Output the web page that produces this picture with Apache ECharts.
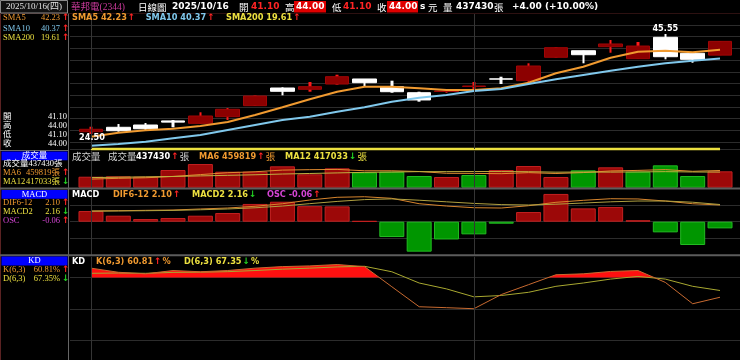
<!DOCTYPE html>
<html><head><meta charset="utf-8">
<script src="https://cdn.jsdelivr.net/npm/echarts@6/dist/echarts.min.js"></script>
<style>html,body{margin:0;padding:0;background:#000}#c{width:740px;height:360px}</style>
</head><body><div id="c"></div>
<script>
// ---------------- data ----------------
const dates  = ['09/10','09/11','09/12','09/15','09/16','09/17','09/18','09/19','09/22','09/23','09/24','09/25',
                '09/26','09/30','10/01','10/02','10/03','10/07','10/08','10/09','10/13','10/14','10/15','10/16'];
const opens  = [24.98,25.91,26.39,27.25,26.75,28.14,30.46,34.18,33.91,35.02,36.08,34.46,
                33.19,33.45,34.50,36.10,35.72,40.65,42.03,42.88,40.35,44.85,41.49,41.10];
const closes = [25.49,25.19,25.60,27.00,28.29,29.70,32.50,33.49,34.46,36.56,35.30,33.40,
                31.66,33.55,34.60,36.05,38.81,42.67,41.19,43.45,43.02,40.77,40.22,44.00];
const highs  = [26.03,26.60,26.81,27.45,29.07,29.97,32.60,34.33,35.45,36.98,36.08,35.72,
                33.40,33.97,35.45,36.56,39.38,42.75,42.03,44.29,43.87,45.55,41.49,44.00];
const lows   = [24.50,24.98,25.34,25.90,26.70,27.45,30.40,32.64,33.40,34.88,34.60,33.19,
                31.30,33.19,33.76,35.02,35.30,40.60,39.38,41.61,40.35,40.22,39.50,41.10];
const sma5   = [23.93,24.77,25.27,25.61,26.18,27.02,28.50,30.12,31.80,33.40,34.46,34.46,
                34.12,33.76,33.76,34.12,35.30,37.28,38.67,40.56,41.82,42.03,41.70,42.23];
const sma10  = [22.03,22.39,22.88,23.59,24.29,25.34,26.39,27.44,28.14,29.19,30.12,31.30,
                32.14,32.71,33.55,33.97,35.02,36.01,36.92,37.82,38.67,39.38,39.93,40.37];
const sma200 = [18.05,18.12,18.19,18.27,18.35,18.43,18.52,18.61,18.70,18.79,18.87,18.95,
                19.02,19.08,19.14,19.20,19.26,19.32,19.38,19.44,19.49,19.53,19.57,19.61];
const volumes = [293000,304000,293000,472000,632000,427000,427000,571000,357000,517000,411000,427000,
                 312000,285000,339000,472000,579000,285000,464000,544000,427000,597000,312000,437430];
const volUp   = [1,1,1,1,1,1,1,1,1,1,0,0, 0,1,0,1,1,1,0,1,0,0,0,1];
const volMa6  = [230000,250000,265000,300000,350000,400000,426000,470000,481000,488000,452000,452000,
                 432000,385000,382000,374000,402000,379000,404000,447000,462000,483000,438000,459819];
const volMa12 = [270000,280000,290000,300000,315000,330000,345000,365000,380000,395000,410000,418000,
                 429000,428000,431000,431000,427000,415000,418000,416000,422000,428000,420000,417033];
const dif     = [1.35,1.38,1.43,1.47,1.60,1.72,1.94,2.26,2.73,3.07,3.14,2.94,
                 2.26,1.97,1.76,1.72,2.01,2.44,2.69,2.89,2.86,2.60,2.26,2.10];
const macd    = [1.32,1.35,1.38,1.42,1.50,1.60,1.75,1.97,2.27,2.55,2.78,2.87,
                 2.70,2.50,2.30,2.15,2.10,2.20,2.35,2.50,2.60,2.60,2.45,2.16];
const osc     = [0.096,0.054,0.024,0.033,0.054,0.078,0.160,0.180,0.140,0.138,0.006,-0.138,
                 -0.270,-0.160,-0.114,-0.018,0.087,0.250,0.120,0.132,0.013,-0.096,-0.210,-0.06];
const kVals   = [89.0,85.0,83.5,86.7,85.5,86.7,89.0,90.5,91.2,92.5,90.5,71.0,
                 51.6,50.7,49.7,63.4,73.0,82.6,83.5,85.8,86.7,75.2,54.5,60.81];
const dVals   = [84.0,84.3,84.0,84.9,85.1,85.6,86.7,88.0,89.0,90.2,90.8,85.5,
                 74.6,68.9,61.2,62.5,65.6,71.4,74.6,78.4,81.0,78.4,71.4,67.35];
const stockName = '華邦電(2344)';
const dayLabel = '2025/10/16';
const change = '+4.00 (+10.00%)';

// ---------------- styling ----------------
const PRICE_MIN = 21.34, PRICE_MAX = 49.76;
const COL = {orange:'#f09a30', blue:'#80c8ec', yellow:'#ece040', red:'#ff2424', green:'#22d022',
  magenta:'#d444d4', upBody:'#8c0000', upWick:'#ff1a1a', grid:'#2c2c2c', vline:'#353535'};
const FB = 'bold 8.2px "DejaVu Sans"';
const FH = 'bold 9px "DejaVu Sans"';
const FC = '9.5px "Noto Sans CJK TC"';
const FS = '8.5px "Liberation Serif", "Noto Sans CJK TC"';
const FA = 'bold 9px "DejaVu Sans"';
const N = dates.length, last = N - 1;
const L = 77.3, R = 6.3;

const mctx = document.createElement('canvas').getContext('2d');
function tw(t, f) { mctx.font = f; return mctx.measureText(t).width; }
function txt(x, y, t, color, font, align) {
  return {type:'text', x:x, y:y, silent:true, z:100,
    style:{text:t, fill:color, font:font, align:align||'left', verticalAlign:'middle',
           textAlign:align||'left', textVerticalAlign:'middle'}};
}
function seq(x, y, parts) {
  const out = []; let cx = x;
  parts.forEach(p => { out.push(txt(cx, y, p[0], p[1], p[2])); cx += tw(p[0], p[2]) + (p[3] || 0); });
  return out;
}
function hline(x1, x2, y, c, w) { return {type:'line', silent:true, z:90, shape:{x1:x1,y1:y,x2:x2,y2:y}, style:{stroke:c, lineWidth:w||1}}; }
function vline(x, y1, y2, c, w) { return {type:'line', silent:true, z:90, shape:{x1:x,y1:y1,x2:x,y2:y2}, style:{stroke:c, lineWidth:w||1}}; }
function rect(x, y, w, h, fill, stroke) { return {type:'rect', silent:true, z:95, shape:{x:x,y:y,width:w,height:h}, style:{fill:fill, stroke:stroke||null}}; }
const UP = '↑', DN = '↓';
const f2 = v => v.toFixed(2);
const markLbl = {color:'#fff', fontSize:8.2, fontWeight:'bold', fontFamily:'DejaVu Sans'};

const vMarks = {silent:true, symbol:'none', label:{show:false}, animation:false,
  lineStyle:{color:COL.vline, type:'solid', width:1}, emphasis:{disabled:true},
  data:[{xAxis:dates[0]},{xAxis:dates[14]}]};
const vMarksVal = Object.assign({}, vMarks, {data:[{xAxis:0},{xAxis:14}]});

// KD fill: K above 80, clipped at 80 with crossing points
const kFill = [];
for (let i = 0; i < N; i++) {
  kFill.push([i, Math.max(kVals[i], 80)]);
  if (i < last && (kVals[i] - 80) * (kVals[i+1] - 80) < 0) {
    kFill.push([i + (80 - kVals[i]) / (kVals[i+1] - kVals[i]), 80]);
  }
}

const chart = echarts.init(document.getElementById('c'));
const gBase = {left:L, right:R};
const option = {
  backgroundColor:'#000', animation:false,
  grid:[
    Object.assign({top:14, height:135}, gBase),
    Object.assign({top:151, height:36.7}, gBase),
    Object.assign({top:189, height:66}, gBase),
    Object.assign({top:256.8, height:104.3}, gBase),
    {left:70, right:0, top:13.3, height:135.7},
    {left:70, right:0, top:205, height:33.4},
    {left:70, right:0, top:277.7, height:62.6}
  ],
  xAxis:[
    {type:'category', gridIndex:0, data:dates, show:false, boundaryGap:true},
    {type:'category', gridIndex:1, data:dates, show:false, boundaryGap:true},
    {type:'category', gridIndex:2, data:dates, show:false, boundaryGap:true},
    {type:'value', gridIndex:3, min:-0.5, max:N-0.5, show:false},
    {type:'value', gridIndex:4, min:0, max:1, show:false},
    {type:'value', gridIndex:5, min:0, max:1, show:false},
    {type:'value', gridIndex:6, min:0, max:1, show:false}
  ],
  yAxis:[
    {type:'value', gridIndex:0, min:PRICE_MIN, max:PRICE_MAX, show:false},
    {type:'value', gridIndex:1, min:0, max:980000, show:false},
    {type:'value', gridIndex:2, min:-4.189, max:4.113, show:false},
    {type:'value', gridIndex:2, min:-0.3, max:0.2946, show:false},
    {type:'value', gridIndex:3, min:0, max:100, show:false},
    {type:'value', gridIndex:4, min:0, max:135.7, interval:11.7, inverse:true,
      axisLine:{show:false}, axisTick:{show:false}, axisLabel:{show:false},
      splitLine:{show:true, lineStyle:{color:COL.grid, width:1}}},
    {type:'value', gridIndex:5, min:0, max:33.4, interval:16.7, inverse:true,
      axisLine:{show:false}, axisTick:{show:false}, axisLabel:{show:false},
      splitLine:{show:true, lineStyle:{color:COL.grid, width:1}}},
    {type:'value', gridIndex:6, min:0, max:62.6, interval:31.3, inverse:true,
      axisLine:{show:false}, axisTick:{show:false}, axisLabel:{show:false},
      splitLine:{show:true, lineStyle:{color:COL.grid, width:1}}}
  ],
  series:[
    // wicks (full low-high range, drawn under bodies)
    {type:'candlestick', xAxisIndex:0, yAxisIndex:0, barWidth:3, z:2,
      itemStyle:{borderWidth:0},
      data:highs.map((h,i)=>({value:[lows[i],h,lows[i],h],
        itemStyle: closes[i] >= opens[i] ? {color:COL.upWick, borderColor:COL.upWick} : {color:'#fff', borderColor:'#fff'}})),
      markLine:vMarks},
    // bodies
    {type:'candlestick', xAxisIndex:0, yAxisIndex:0, barWidth:24, z:3,
      itemStyle:{color:COL.upBody, color0:'#ffffff', borderColor:'#a00606', borderColor0:'#ffffff', borderWidth:1},
      data:opens.map((o,i)=>[o, closes[i], Math.min(o,closes[i]), Math.max(o,closes[i])]),
      markPoint:{symbol:'circle', symbolSize:0, silent:true,
        data:[
          {coord:[dates[21], highs[21]], value:highs[21],
            label:Object.assign({show:true, position:'top', distance:1, formatter:p=>f2(p.value)}, markLbl)},
          {coord:[dates[0], lows[0]], value:lows[0],
            label:Object.assign({show:true, position:'bottom', distance:0, offset:[1,0], formatter:p=>f2(p.value)}, markLbl)}
        ]}},
    {type:'line', xAxisIndex:0, yAxisIndex:0, data:sma5, symbol:'none', z:4,
      lineStyle:{color:COL.orange, width:2}},
    {type:'line', xAxisIndex:0, yAxisIndex:0, data:sma10, symbol:'none', z:4,
      lineStyle:{color:COL.blue, width:2}},
    {type:'line', xAxisIndex:0, yAxisIndex:0, data:sma200.map(v=>Math.max(v, PRICE_MIN)), symbol:'none', z:4, clip:false,
      lineStyle:{color:COL.yellow, width:2.5}},
    // volume
    {type:'bar', xAxisIndex:1, yAxisIndex:1, barWidth:25, z:2,
      data:volumes.map((v,i)=>({value:v, itemStyle:{color: volUp[i] ? '#9c0808' : '#009600',
        borderColor: volUp[i] ? '#c42020' : '#22bb22', borderWidth:1}})),
      markLine:vMarks},
    {type:'line', xAxisIndex:1, yAxisIndex:1, data:volMa6, symbol:'none', z:4, lineStyle:{color:'#e08a30', width:1}},
    {type:'line', xAxisIndex:1, yAxisIndex:1, data:volMa12, symbol:'none', z:4, lineStyle:{color:'#c0b040', width:1}},
    // MACD
    {type:'bar', xAxisIndex:2, yAxisIndex:3, barWidth:25, z:2,
      data:osc.map(v=>({value:v, itemStyle:{color: v >= 0 ? '#9c0808' : '#009600',
        borderColor: v >= 0 ? '#c42020' : '#22bb22', borderWidth:1}})),
      markLine:vMarks},
    {type:'line', xAxisIndex:2, yAxisIndex:2, data:dif, symbol:'none', z:4, lineStyle:{color:'#d8862e', width:1}},
    {type:'line', xAxisIndex:2, yAxisIndex:2, data:macd, symbol:'none', z:4, lineStyle:{color:'#b0a040', width:1}},
    // KD
    {type:'line', xAxisIndex:3, yAxisIndex:4, data:kFill, symbol:'none', z:2,
      lineStyle:{width:0}, areaStyle:{color:'#ff1010', opacity:1, origin:80}, markLine:vMarksVal},
    {type:'line', xAxisIndex:3, yAxisIndex:4, data:dVals.map((v,i)=>[i,v]), symbol:'none', z:4, lineStyle:{color:'#a8a830', width:1}},
    {type:'line', xAxisIndex:3, yAxisIndex:4, data:kVals.map((v,i)=>[i,v]), symbol:'none', z:4, lineStyle:{color:'#c86a30', width:1}}
  ]
};

// ---------------- texts / frame ----------------
const G = [];
G.push(rect(0, 0, 740, 13.5, '#000'));
G.push(hline(0, 740, 13.5, '#5a2222', 1));
G.push(vline(0.5, 0, 360, '#5a2222', 1));
G.push(vline(68.5, 0, 360, '#666', 1));
G.push(hline(0, 68.5, 150.5, '#666', 1));
G.push(hline(0, 740, 188.6, '#5c5c5c', 2));
G.push(hline(0, 740, 255.2, '#5c5c5c', 2));
// header
G.push(rect(0.5, 0.5, 67, 12.5, '#111', '#8a8a8a'));
G.push(txt(34, 7, dayLabel + '(四)', '#e4e4e4', '9px "Liberation Serif", "Noto Sans CJK TC"', 'center'));
G.push(txt(71, 7, stockName, '#cc3a9c', '9.5px "Liberation Serif", "Noto Sans CJK TC"'));
G.push(txt(138, 7, '日線圖', '#fff', FC));
G.push(txt(172, 7, dayLabel, '#fff', FH));
G.push(txt(239, 7, '開', '#fff', FC));
G.push(txt(251, 7, f2(opens[last]), COL.red, FH));
G.push(txt(285, 7, '高', '#fff', FC));
G.push(rect(294, 1, 32, 11.5, '#e00000'));
G.push(txt(296, 7, f2(highs[last]), '#fff', FH));
G.push(txt(332, 7, '低', '#fff', FC));
G.push(txt(343, 7, f2(lows[last]), COL.red, FH));
G.push(txt(377, 7, '收', '#fff', FC));
G.push(rect(387, 1, 31, 11.5, '#e00000'));
G.push(txt(389, 7, f2(closes[last]), '#fff', FH));
G.push(txt(420, 7, 's', '#fff', FH));
G.push(txt(428, 7, '元', '#fff', FC));
G.push(txt(443, 7, '量', '#fff', FC));
G.push(txt(456, 7, String(volumes[last]), '#fff', FH));
G.push(txt(494, 7, '張', '#fff', FC));
G.push(txt(512, 7, change, '#fff', FH));
// main legend
G.push(...seq(72, 18, [['SMA5 ' + f2(sma5[last]), COL.orange, FB, 1], [UP, COL.red, FA]]));
G.push(...seq(145.7, 18, [['SMA10 ' + f2(sma10[last]), COL.blue, FB, 1], [UP, COL.red, FA]]));
G.push(...seq(226, 18, [['SMA200 ' + f2(sma200[last]), COL.yellow, FB, 1], [UP, COL.red, FA]]));
// volume legend
G.push(txt(72, 156.5, '成交量', '#d4d4d4', FC));
G.push(txt(108, 156.5, '成交量', '#d4d4d4', FC));
G.push(...seq(136, 156.5, [[String(volumes[last]), '#fff', FB, 1], [UP, COL.red, FA, 1], ['張', '#d4d4d4', FC]]));
G.push(...seq(199, 156.5, [['MA6 ' + volMa6[last], COL.orange, FB, 1], [UP, COL.red, FA, 1], ['張', COL.orange, FC]]));
G.push(...seq(285, 156.5, [['MA12 ' + volMa12[last], COL.yellow, FB, 1], [DN, COL.green, FA, 1], ['張', COL.yellow, FC]]));
// MACD legend
G.push(txt(72, 195, 'MACD', '#fff', FB));
G.push(...seq(113, 195, [['DIF6-12 ' + f2(dif[last]), COL.orange, FB, 1], [UP, COL.red, FA]]));
G.push(...seq(192, 195, [['MACD2 ' + f2(macd[last]), COL.yellow, FB, 1], [DN, COL.green, FA]]));
G.push(...seq(267, 195, [['OSC ' + f2(osc[last]), COL.magenta, FB, 1], [UP, COL.red, FA]]));
// KD legend
G.push(txt(72, 261.7, 'KD', '#fff', FB));
G.push(...seq(96, 261.7, [['K(6,3) ' + f2(kVals[last]), COL.orange, FB, 1], [UP, COL.red, FA, 1], ['%', COL.orange, FB]]));
G.push(...seq(184, 261.7, [['D(6,3) ' + f2(dVals[last]), COL.yellow, FB, 1], [DN, COL.green, FA, 1], ['%', COL.yellow, FB]]));

// left panel
function lrow(y, label, lc, val, vc, arrow, ac, vRight) {
  G.push(txt(3, y, label, lc, FS));
  G.push(txt(vRight || 60, y, val, vc, FS, 'right'));
  if (arrow) G.push(txt(62, y, arrow, ac, FA));
}
lrow(18, 'SMA5', COL.orange, f2(sma5[last]), COL.orange, UP, COL.red);
lrow(28.5, 'SMA10', COL.blue, f2(sma10[last]), COL.blue, UP, COL.red);
lrow(37.5, 'SMA200', COL.yellow, f2(sma200[last]), COL.yellow, UP, COL.red);
lrow(116.7, '開', '#fff', f2(opens[last]), '#fff', null, null, 67);
lrow(126, '高', '#fff', f2(highs[last]), '#fff', null, null, 67);
lrow(135, '低', '#fff', f2(lows[last]), '#fff', null, null, 67);
lrow(144, '收', '#fff', f2(closes[last]), '#fff', null, null, 67);
G.push(rect(1.5, 151.5, 66, 8.8, '#0000ff'));
G.push(txt(34.5, 156, '成交量', '#fff', FS, 'center'));
G.push(txt(3, 164, '成交量' + volumes[last] + '張', '#fff', FS));
lrow(172.8, 'MA6', COL.orange, volMa6[last] + '張', COL.orange, UP, COL.red);
lrow(181.7, 'MA12', COL.yellow, volMa12[last] + '張', COL.yellow, DN, COL.green);
G.push(rect(1.5, 190, 66, 8.8, '#0000ff'));
G.push(txt(34.5, 194.5, 'MACD', '#fff', FS, 'center'));
lrow(203, 'DIF6-12', COL.orange, f2(dif[last]), COL.orange, UP, COL.red);
lrow(211.7, 'MACD2', COL.yellow, f2(macd[last]), COL.yellow, DN, COL.green);
lrow(220.4, 'OSC', COL.magenta, f2(osc[last]), COL.magenta, UP, COL.red);
G.push(rect(1.5, 256.6, 66, 8.8, '#0000ff'));
G.push(txt(34.5, 261.2, 'KD', '#fff', FS, 'center'));
lrow(269.5, 'K(6,3)', COL.orange, f2(kVals[last]) + '%', COL.orange, UP, COL.red);
lrow(278.4, 'D(6,3)', COL.yellow, f2(dVals[last]) + '%', COL.yellow, DN, COL.green);

option.graphic = {elements: G};
chart.setOption(option);
</script></body></html>
